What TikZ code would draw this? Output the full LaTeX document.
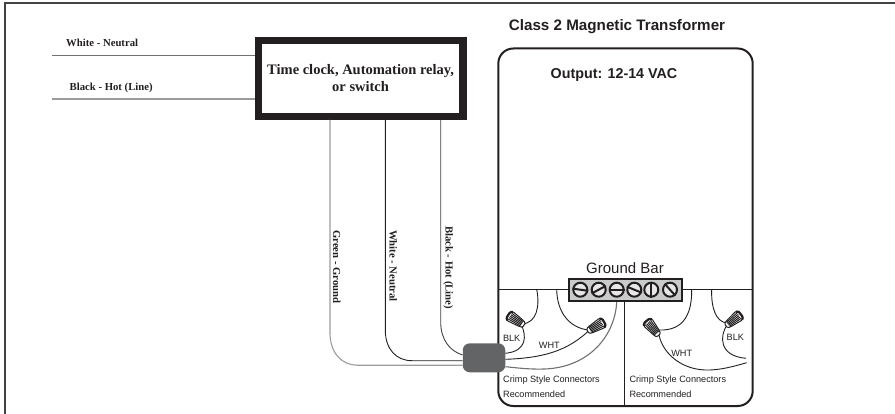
\documentclass[tikz,border=0pt]{standalone}
\usepackage{fontspec}
\setmainfont{Liberation Serif}
\setsansfont{Liberation Sans}
\definecolor{ink}{HTML}{231F20}
\definecolor{cablegray}{HTML}{636466}
\definecolor{barfill}{HTML}{C9CACB}
\definecolor{wiregray}{HTML}{9A9B9D}
\definecolor{wiremid}{HTML}{707173}
\tikzset{
  wire/.style={draw=ink,line width=0.9pt},
  lightwire/.style={draw=wiregray,line width=1.1pt},
  midwire/.style={draw=wiremid,line width=0.9pt},
  serifbold/.style={font=\rmfamily\bfseries\fontsize{10.7}{12}\selectfont,text=ink,inner sep=0pt},
  sanssmall/.style={font=\sffamily\fontsize{9.15}{11}\selectfont,text=ink,inner sep=0pt},
  sanshead/.style={font=\sffamily\bfseries\fontsize{14.3}{17}\selectfont,text=ink,inner sep=0pt},
  screwhead/.style={circle,draw=ink,fill=barfill!45,line width=2pt,minimum size=14pt,inner sep=0pt},
  wirenut/.pic={
    \fill[white,draw=ink,line width=1pt,rounded corners=1pt] (-9.5,-2.5) -- (-6.5,-3.6) -- (7,-5.4) -- (9.5,-3.5) -- (9.5,3.5) -- (7,5.4) -- (-6.5,3.6) -- (-9.5,2.5) -- cycle;
    \foreach \yy in {-3.4,-1.7,0,1.7,3.4}{\draw[ink,line width=1pt] (-7,\yy*0.75) -- (7,\yy);}
    \draw[ink,line width=2.2pt,rounded corners=1pt] (7,-5.1) -- (9.2,-3.3) -- (9.2,3.3) -- (7,5.1);
  }
}
\begin{document}
\begin{tikzpicture}[x=1pt,y=-1pt]
\useasboundingbox (0,0) rectangle (895,414);
% frame
\draw[ink!85,line width=2pt] (5,414) -- (5,3.5) -- (895,3.5);
% switch box
\node[draw=ink,line width=7.3pt,fill=white,minimum width=204.6pt,minimum height=76pt,inner sep=0pt,align=center,
      font=\rmfamily\bfseries\fontsize{14.5}{16.7}\selectfont,text=ink] (box) at (360.6,78.3) {Time clock, Automation relay,\\or switch};
% feed lines
\coordinate (feedW) at (52,55.5);
\coordinate (feedB) at (52,99);
\coordinate (boxW) at (255,55.5);
\coordinate (boxB) at (255,99);
\draw[midwire] (feedW) -- (boxW);
\draw[lightwire] (feedB) -- (boxB);
\node[serifbold,anchor=west] (lblW) at (66,42.5) {White - Neutral};
\node[serifbold,anchor=west] (lblB) at (69.5,87.5) {Black - Hot (Line)};
% transformer
\draw[ink,line width=2pt,rounded corners=15pt,fill=white] (498.3,48.5) rectangle (752.7,406);
\node[sanshead,font=\sffamily\bfseries\fontsize{15.2}{17}\selectfont] (title) at (617,27) {Class 2 Magnetic Transformer};
\node[sanshead] (output) at (614,75) {Output: 12-14 VAC};
\node[font=\sffamily\fontsize{15}{17}\selectfont,text=ink,inner sep=0pt] (gblabel) at (625,268) {Ground Bar};
% ground bar
\coordinate (railL) at (498.3,289.3);
\coordinate (railR) at (752.7,289.3);
\draw[wire] (railL) -- (railR);
\node[draw=ink,fill=barfill,line width=1.7pt,minimum width=113pt,minimum height=22.5pt,inner sep=0pt] (bar) at (625.3,290) {};
\coordinate (divB) at (624.3,406);
\draw[wire] (bar.south -| divB) -- (divB);
\foreach \n/\xx/\ang in {1/580.3/-8,2/598.7/28,3/616.7/0,4/634.3/-22,5/651.3/90,6/670/-48}{
  \node[screwhead] (s\n) at (\xx,289.7) {};
  \draw[ink,line width=2pt] (s\n.\ang+180) -- (s\n.\ang);
}
% vertical wires and cable
\node[fill=cablegray,rounded corners=7pt,minimum width=42.5pt,minimum height=29pt,inner sep=0pt] (cable) at (484,357.8) {};
\coordinate (wG) at (330,120);
\coordinate (wN) at (385.3,120);
\coordinate (wH) at (440.7,120);
\draw[lightwire] (wG) -- (330,333) .. controls (330,353) and (342,365.2) .. (357,365.2) -- (cable.west |- 0,365.2);
\draw[wire] (wN) -- (385.3,330) .. controls (385.3,349) and (396,360.7) .. (412,360.7) -- (cable.west |- 0,360.7);
\draw[wire,draw=ink!85] (wH) -- (440.7,322) .. controls (440.7,340) and (450,351) .. (cable.west |- 0,355);
\node[serifbold,rotate=-90] (lblG2) at (336.7,267) {Green - Ground};
\node[serifbold,rotate=-90] (lblN2) at (393.3,266) {White - Neutral};
\node[serifbold,rotate=-90] (lblH2) at (448.3,267.5) {Black - Hot (Line)};
% wire nuts
\coordinate (nA) at (516,320);
\coordinate (nB) at (596,326.5);
\coordinate (nC) at (652.5,328);
\coordinate (nD) at (733.5,320);
% left compartment wires
\coordinate (a1) at (536.7,289.3);
\coordinate (a2) at (556.7,289.3);
\coordinate (d1) at (691.7,289.3);
\coordinate (d2) at (711.7,289.3);
\coordinate (eC) at (746.7,362.7);
\coordinate (eD) at (746,358.3);
\draw[wire] (a1) .. controls (540,306) and (537,323) .. (522,324);
\draw[wire] (521.5,325) .. controls (526,335) and (528,351) .. (cable.east |- 0,353.3);
\draw[wire] (a2) .. controls (557,313) and (570,328) .. (588.5,330);
\draw[wire] (588.5,331) .. controls (568,350) and (545,358) .. (cable.east |- 0,359.3);
\draw[lightwire,draw=wiremid] (bar.south -| 616.7,0) .. controls (615,335) and (590,367) .. (545,369) .. controls (530,369.5) and (518,368) .. (cable.east |- 0,366.7);
% right compartment wires
\draw[wire] (d1) .. controls (692,312) and (685,331) .. (659,330);
\draw[wire] (658.5,332) .. controls (661,352) and (680,369) .. (705,370) .. controls (720,370.5) and (735,366) .. (eC);
\draw[wire] (d2) .. controls (711,308) and (716,322) .. (727,323);
\draw[wire] (727,325) .. controls (720,335) and (718,356) .. (eD);
\pic[rotate=147] at (nA) {wirenut};
\pic[rotate=30] at (nB) {wirenut};
\pic[rotate=130] at (nC) {wirenut};
\pic[rotate=38] at (nD) {wirenut};
% texts
\node[sanssmall] (blkL) at (511.7,338.3) {BLK};
\node[sanssmall] (whtL) at (549.3,345) {WHT};
\node[sanssmall] (whtR) at (681.7,353.3) {WHT};
\node[sanssmall] (blkR) at (735.3,337) {BLK};
\node[sanssmall,anchor=west] (c1) at (503,380) {Crimp Style Connectors};
\node[sanssmall,anchor=west] (c2) at (503,394) {Recommended};
\node[sanssmall,anchor=west] (c3) at (629.3,380) {Crimp Style Connectors};
\node[sanssmall,anchor=west] (c4) at (629.3,394) {Recommended};
\end{tikzpicture}
\end{document}
